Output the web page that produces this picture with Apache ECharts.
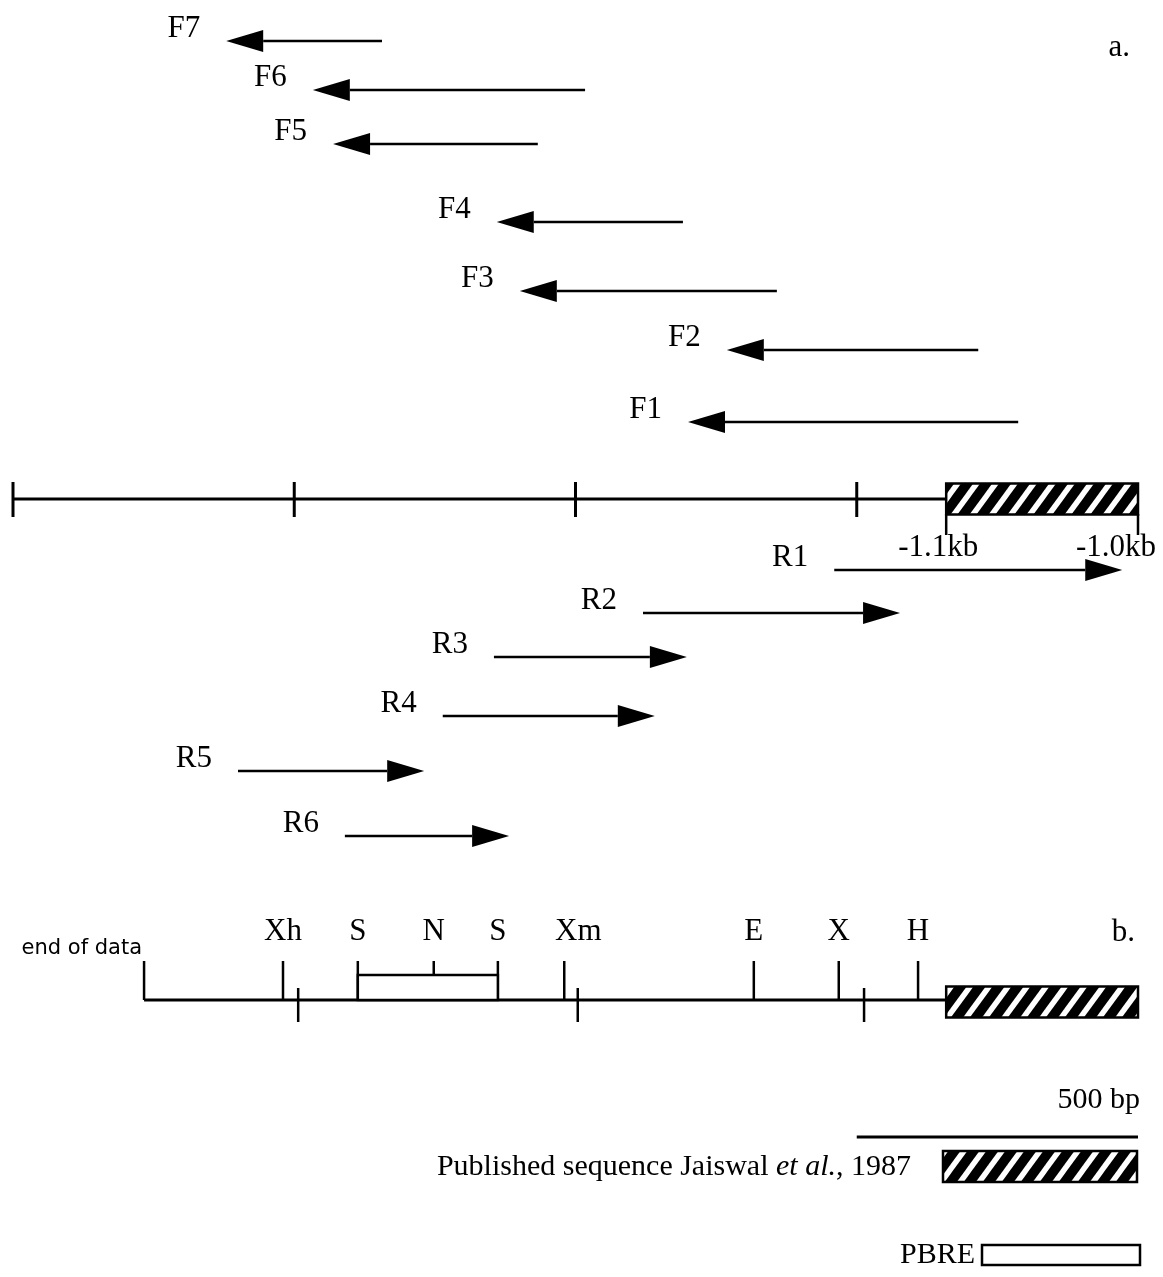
<!DOCTYPE html>
<html><head><meta charset="utf-8">
<script src="https://cdn.jsdelivr.net/npm/echarts@6/dist/echarts.min.js"></script>
<style>html,body{margin:0;padding:0;background:#fff}#c{width:1163px;height:1277px}</style>
</head><body><div id="c"></div>
<script>
// ---------- DATA (positions along the map in bp, rows = vertical track value) ----------
const fwdNames = ['F7','F6','F5','F4','F3','F2','F1'];
const fwdTip   = [379, 533, 569, 860, 901, 1269, 1200];
const fwdTail  = [656, 1017, 933, 1191, 1358, 1716, 1787];
const fwdRow   = [41, 90, 144, 222, 291, 350, 422];

const revNames = ['R1','R2','R3','R4','R5','R6'];
const revTail  = [1460, 1120, 855, 764, 400, 590];
const revTip   = [1972, 1577, 1198, 1141, 731, 882];
const revRow   = [570, 613, 657, 716, 771, 836];

// map a
const mapARow = 499;
const mapAStart = 0;
const mapATicks = [0, 500, 1000, 1500];
const publishedStart = 1659;
const publishedEnd = 2000;
const kbLabels = ['-1.1kb', '-1.0kb'];

// map b
const mapBRow = 1000;
const endOfData = 233;
const siteNames = ['Xh','S','N','S','Xm','E','X','H'];
const sitePos   = [480, 613, 748, 862, 980, 1317, 1468, 1609];
const mapBTicks = [507, 1004, 1513];
const pbreStart = 613, pbreEnd = 862;

// scale bar
const scaleBarBp = 500;
const scaleBarRow = 1137;
const scaleBarLabel = '500 bp';

// ---------- STYLE ----------
const SERIF = '"Liberation Serif", "Times New Roman", serif';
const SANS = '"DejaVu Sans", sans-serif';
const FS = 31;
const FSL = 30;
const BLACK = '#000';
const kbLabelDx = [-8, -22];
const siteLabelDx = {Xm: 14};

function makeHatch() {
  const p = 19, h = 26;
  const c = document.createElement('canvas');
  c.width = p; c.height = h;
  const g = c.getContext('2d');
  g.fillStyle = '#000'; g.fillRect(0, 0, p, h);
  g.strokeStyle = '#fff'; g.lineWidth = 5.5; g.lineCap = 'square';
  for (const k of [-p, 0, p]) {
    g.beginPath(); g.moveTo(k - p, 2 * h); g.lineTo(k + 2 * p, -h); g.stroke();
  }
  return c;
}
const hatch = { image: makeHatch(), repeat: 'repeat' };

const arrowData = fwdNames.map((n, i) => [fwdTail[i], fwdTip[i], fwdRow[i]])
  .concat(revNames.map((n, i) => [revTail[i], revTip[i], revRow[i]]));
const arrowNames = fwdNames.concat(revNames);

function txt(x, y, text, align, font, extra) {
  return Object.assign({ type: 'text', x: x, y: y,
    style: { text: text, fill: BLACK, font: font || (FS + 'px ' + SERIF), align: align || 'center', verticalAlign: 'middle' } }, extra || {});
}
function vline(x, y1, y2, lw) {
  return { type: 'line', shape: { x1: x, y1: y1, x2: x, y2: y2 }, style: { stroke: BLACK, lineWidth: lw || 3 } };
}

const chart = echarts.init(document.getElementById('c'));
const base = { type: 'custom', coordinateSystem: 'cartesian2d', clip: false, silent: true, animation: false };

chart.setOption({
  animation: false,
  grid: { left: 0, right: 0, top: 0, bottom: 0 },
  xAxis: { type: 'value', min: -13 / 0.5625, max: (1163 - 13) / 0.5625, show: false },
  yAxis: { type: 'value', min: 0, max: 1277, inverse: true, show: false },
  series: [
    // primer arrows
    Object.assign({}, base, {
      data: arrowData, encode: { x: [0, 1], y: 2 },
      renderItem: function (params, api) {
        const a = api.coord([api.value(0), api.value(2)]);
        const b = api.coord([api.value(1), api.value(2)]);
        const dir = b[0] > a[0] ? 1 : -1;
        const hl = 37, hw = 11;
        const hb = b[0] - dir * hl;
        const left = Math.min(a[0], b[0]);
        return { type: 'group', children: [
          { type: 'line', shape: { x1: a[0], y1: a[1], x2: hb, y2: a[1] }, style: { stroke: BLACK, lineWidth: 2.5 } },
          { type: 'polygon', shape: { points: [[b[0], b[1]], [hb, b[1] - hw], [hb, b[1] + hw]] }, style: { fill: BLACK } },
          txt(left - 26, a[1] - 12, arrowNames[params.dataIndex], 'right')
        ] };
      }
    }),
    // backbones
    Object.assign({}, base, {
      data: [[mapAStart, publishedStart, mapARow], [endOfData, publishedStart, mapBRow]], encode: { x: [0, 1], y: 2 },
      renderItem: function (params, api) {
        const a = api.coord([api.value(0), api.value(2)]);
        const b = api.coord([api.value(1), api.value(2)]);
        return { type: 'line', shape: { x1: a[0], y1: a[1], x2: b[0], y2: b[1] }, style: { stroke: BLACK, lineWidth: 3 } };
      }
    }),
    // map a ticks
    Object.assign({}, base, {
      data: mapATicks.map(v => [v, mapARow]), encode: { x: 0, y: 1 },
      renderItem: function (params, api) {
        const p = api.coord([api.value(0), api.value(1)]);
        return vline(p[0], p[1] - 17, p[1] + 18, 3);
      }
    }),
    // map b ticks
    Object.assign({}, base, {
      data: mapBTicks.map(v => [v, mapBRow]), encode: { x: 0, y: 1 },
      renderItem: function (params, api) {
        const p = api.coord([api.value(0), api.value(1)]);
        return vline(p[0], p[1] - 12, p[1] + 22, 2.5);
      }
    }),
    // published sequence boxes
    Object.assign({}, base, {
      data: [[publishedStart, publishedEnd, mapARow], [publishedStart, publishedEnd, mapBRow + 2]], encode: { x: [0, 1], y: 2 },
      renderItem: function (params, api) {
        const a = api.coord([api.value(0), api.value(2)]);
        const b = api.coord([api.value(1), api.value(2)]);
        return { type: 'rect', shape: { x: a[0], y: a[1] - 15.5, width: b[0] - a[0], height: 31 },
          style: { fill: hatch, stroke: BLACK, lineWidth: 2.5 } };
      }
    }),
    // kb ticks + labels
    Object.assign({}, base, {
      data: [[publishedStart, mapARow], [publishedEnd, mapARow]], encode: { x: 0, y: 1 },
      renderItem: function (params, api) {
        const p = api.coord([api.value(0), api.value(1)]);
        return { type: 'group', children: [
          vline(p[0], p[1] + 15, p[1] + 36, 2.5),
          txt(p[0] + kbLabelDx[params.dataIndex], p[1] + 49, kbLabels[params.dataIndex], 'center')
        ] };
      }
    }),
    // end of data
    Object.assign({}, base, {
      data: [[endOfData, mapBRow]], encode: { x: 0, y: 1 },
      renderItem: function (params, api) {
        const p = api.coord([api.value(0), api.value(1)]);
        return { type: 'group', children: [
          vline(p[0], p[1] - 39, p[1], 2.5),
          txt(p[0] - 2, p[1] - 51, 'end of data', 'right', '21px ' + SANS)
        ] };
      }
    }),
    // restriction sites
    Object.assign({}, base, {
      data: sitePos.map(v => [v, mapBRow]), encode: { x: 0, y: 1 },
      renderItem: function (params, api) {
        const p = api.coord([api.value(0), api.value(1)]);
        const name = siteNames[params.dataIndex];
        return { type: 'group', children: [
          vline(p[0], p[1] - 39, p[1], 2.5),
          txt(p[0] + (siteLabelDx[name] || 0), p[1] - 68, name, 'center')
        ] };
      }
    }),
    // PBRE box
    Object.assign({}, base, {
      data: [[pbreStart, pbreEnd, mapBRow]], encode: { x: [0, 1], y: 2 },
      renderItem: function (params, api) {
        const a = api.coord([api.value(0), api.value(2)]);
        const b = api.coord([api.value(1), api.value(2)]);
        return { type: 'rect', shape: { x: a[0], y: a[1] - 25, width: b[0] - a[0], height: 25 },
          style: { fill: '#fff', stroke: BLACK, lineWidth: 2.5 } };
      }
    }),
    // scale bar
    Object.assign({}, base, {
      data: [[publishedEnd - scaleBarBp, publishedEnd, scaleBarRow]], encode: { x: [0, 1], y: 2 },
      renderItem: function (params, api) {
        const a = api.coord([api.value(0), api.value(2)]);
        const b = api.coord([api.value(1), api.value(2)]);
        return { type: 'group', children: [
          { type: 'line', shape: { x1: a[0], y1: a[1], x2: b[0], y2: b[1] }, style: { stroke: BLACK, lineWidth: 3 } },
          txt(b[0] + 2, a[1] - 37, scaleBarLabel, 'right', FSL + 'px ' + SERIF)
        ] };
      }
    })
  ],
  graphic: [
    { type: 'text', right: 33, top: 32, style: { text: 'a.', font: FS + 'px ' + SERIF, fill: BLACK } },
    { type: 'text', right: 28, top: 917, style: { text: 'b.', font: FS + 'px ' + SERIF, fill: BLACK } },
    { type: 'text', x: 911, y: 1167, style: {
        text: '{n|Published sequence Jaiswal }{i|et al.}{n|, 1987}', align: 'right', verticalAlign: 'middle',
        rich: { n: { font: FSL + 'px ' + SERIF, fill: BLACK }, i: { font: 'italic ' + FSL + 'px ' + SERIF, fill: BLACK } } } },
    { type: 'rect', shape: { x: 943, y: 1151, width: 194, height: 31 }, style: { fill: hatch, stroke: BLACK, lineWidth: 2.5 } },
    { type: 'text', x: 975, y: 1255, style: { text: 'PBRE', font: FSL + 'px ' + SERIF, fill: BLACK, align: 'right', verticalAlign: 'middle' } },
    { type: 'rect', shape: { x: 982, y: 1245, width: 158, height: 20 }, style: { fill: '#fff', stroke: BLACK, lineWidth: 2.5 } }
  ]
});
</script>
</body></html>
